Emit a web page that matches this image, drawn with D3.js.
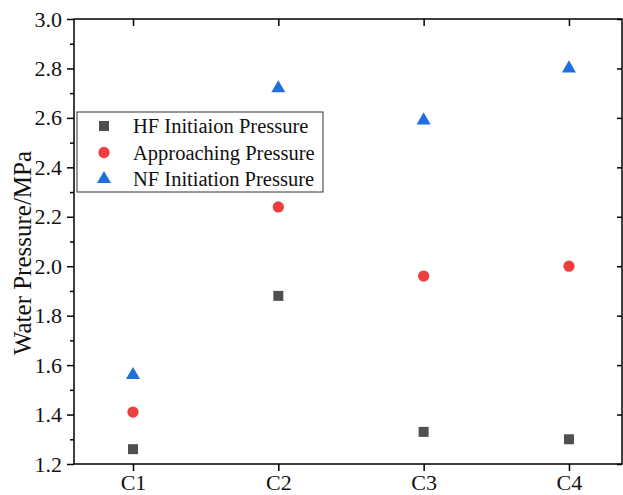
<!DOCTYPE html>
<html>
<head>
<meta charset="utf-8">
<script src="https://cdn.jsdelivr.net/npm/d3@7"></script>
<style>
  html, body { margin: 0; padding: 0; background: #fff; }
  svg text { font-family: "Liberation Serif", "Times New Roman", serif; fill: #111; }
</style>
</head>
<body>
<svg id="chart" width="623" height="495"></svg>
<script>
// Water pressure per case
const categories = ['C1', 'C2', 'C3', 'C4'];
const hfInitiation = [1.26, 1.88, 1.33, 1.30];
const approaching = [1.41, 2.24, 1.96, 2.00];
const nfInitiation = [1.56, 2.72, 2.59, 2.80];
const yTicks = [1.2, 1.4, 1.6, 1.8, 2.0, 2.2, 2.4, 2.6, 2.8, 3.0];

const series = [
  { name: 'HF Initiaion Pressure', values: hfInitiation, shape: d3.symbolSquare, color: '#4f4f4f', size: 100 },
  { name: 'Approaching Pressure', values: approaching, shape: d3.symbolCircle, color: '#ee3e3e', size: 100 },
  { name: 'NF Initiation Pressure', values: nfInitiation, shape: d3.symbolTriangle, color: '#1f6fdf', size: 85 },
];

const svg = d3.select('#chart');
const plot = { left: 74, right: 622, top: 19, bottom: 464 };
const tickFont = '22px';

const x = d3.scaleLinear().domain([0.594, 4.365]).range([plot.left, plot.right]);
const y = d3.scaleLinear().domain([1.2, 3.0]).range([plot.bottom, plot.top]);
const xi = (i) => x(i + 1);

// frame
svg.append('rect')
  .attr('x', plot.left).attr('y', plot.top)
  .attr('width', plot.right - plot.left).attr('height', plot.bottom - plot.top)
  .attr('fill', 'none').attr('stroke', '#000').attr('stroke-width', 1.5);

// left axis (outward ticks + minor)
const yMinor = d3.range(1.3, 3.0, 0.2);
svg.append('g').attr('transform', `translate(${plot.left},0)`)
  .call(d3.axisLeft(y).tickValues(yMinor).tickSize(4).tickFormat(''))
  .call(g => g.select('.domain').remove());
svg.append('g').attr('transform', `translate(${plot.left},0)`)
  .call(d3.axisLeft(y).tickValues(yTicks).tickSize(7).tickPadding(5).tickFormat(d3.format('.1f')))
  .call(g => g.select('.domain').remove())
  .call(g => g.selectAll('text').style('font-size', tickFont).style('font-family', '"Liberation Serif", serif'));

// right axis (inward ticks)
svg.append('g').attr('transform', `translate(${plot.right},0)`)
  .call(d3.axisLeft(y).tickValues(yTicks).tickSize(5).tickFormat(''))
  .call(g => g.select('.domain').remove());

// bottom axis
svg.append('g').attr('transform', `translate(0,${plot.bottom})`)
  .call(d3.axisBottom(x).tickValues([1, 2, 3, 4]).tickSize(7).tickPadding(3)
    .tickFormat((d) => categories[d - 1]))
  .call(g => g.select('.domain').remove())
  .call(g => g.selectAll('text').style('font-size', tickFont).style('font-family', '"Liberation Serif", serif'));

// top axis (inward ticks)
svg.append('g').attr('transform', `translate(0,${plot.top})`)
  .call(d3.axisBottom(x).tickValues([1, 2, 3, 4]).tickSize(7).tickFormat(''))
  .call(g => g.select('.domain').remove());

svg.selectAll('.tick line').attr('stroke', '#000').attr('stroke-width', 1.5);

// y title
svg.append('text')
  .attr('transform', `translate(31,253) rotate(-90)`)
  .attr('text-anchor', 'middle')
  .style('font-size', '25px')
  .text('Water Pressure/MPa');

// points
series.forEach((s) => {
  svg.append('g').selectAll('path')
    .data(s.values)
    .join('path')
    .attr('d', d3.symbol().type(s.shape).size(s.size))
    .attr('transform', (d, i) => `translate(${xi(i)},${y(d)})`)
    .attr('fill', s.color);
});

// legend
const lg = svg.append('g').attr('transform', 'translate(77,112)');
lg.append('rect').attr('width', 246).attr('height', 80)
  .attr('fill', '#fff').attr('stroke', '#333').attr('stroke-width', 1);
series.forEach((s, i) => {
  const row = lg.append('g').attr('transform', `translate(0,${14 + i * 26.5})`);
  row.append('path')
    .attr('d', d3.symbol().type(s.shape).size(s.size))
    .attr('transform', 'translate(27,0)')
    .attr('fill', s.color);
  row.append('text')
    .attr('x', 56).attr('dy', '0.35em')
    .style('font-size', '20.5px')
    .text(s.name);
});
</script>
</body>
</html>
